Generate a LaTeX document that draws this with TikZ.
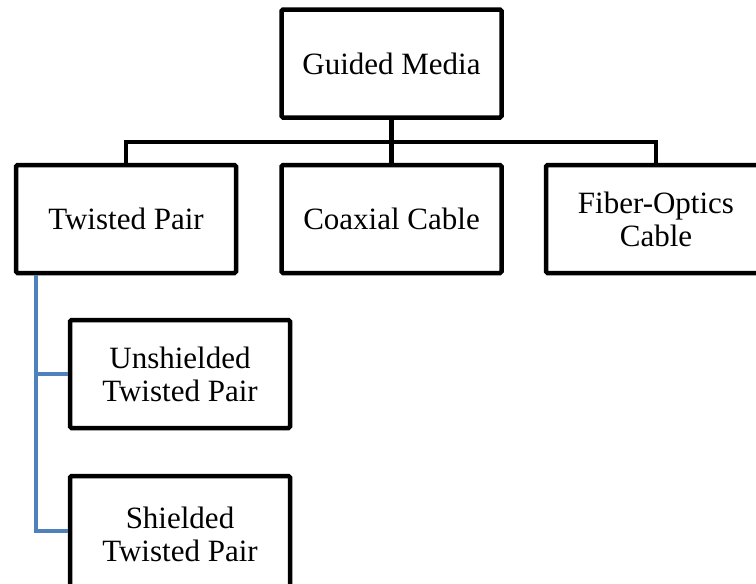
\documentclass[tikz,border=0pt]{standalone}
\usepackage{fontspec}
\setmainfont{Liberation Serif}
\definecolor{officeblue}{HTML}{4F81BD}
\begin{document}
\begin{tikzpicture}[x=1pt,y=-1pt]
    \tikzstyle{box}=[draw,line width=4.5pt,rounded corners=1.5pt,minimum width=220pt,minimum height=108pt,align=center,font=\fontsize{31}{33}\selectfont];
    \tikzstyle{link}=[draw,line width=4.5pt];
    \tikzstyle{branch}=[draw,officeblue,line width=3.5pt];
    \useasboundingbox (0,0) rectangle (756,584);
    \node at (391.5, 63.5) (guided) [box] {Guided Media};
    \node at (126, 219)    (twisted) [box] {Twisted Pair};
    \node at (391.5, 219)  (coax) [box] {Coaxial Cable};
    \node at (656, 219)    (fiber) [box] {Fiber-Optics\\Cable};
    \node at (180, 374)    (utp) [box] {Unshielded\\Twisted Pair};
    \node at (180, 534)    (stp) [box,minimum height=116pt] {Shielded\\Twisted Pair};
    \coordinate (bar) at (391.5, 142);
    \coordinate (trunk) at ([xshift=22pt]twisted.south west);

    \draw[link] (guided.south) to (coax.north);
    \draw[link] (twisted.north) |- (bar) -| (fiber.north);
    \draw[branch] (trunk) |- (utp.west);
    \draw[branch] (trunk) |- ([yshift=3pt]stp.west);
\end{tikzpicture}
\end{document}
